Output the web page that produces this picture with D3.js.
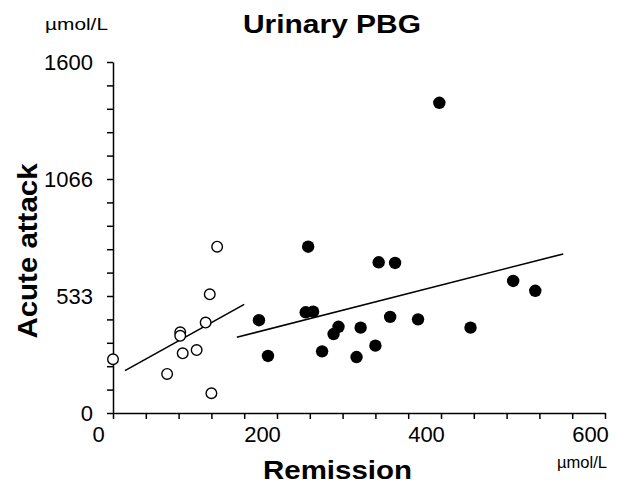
<!DOCTYPE html>
<html>
<head>
<meta charset="utf-8">
<script src="https://cdn.jsdelivr.net/npm/d3@7"></script>
<style>
  body { margin: 0; background: #fff; }
  text { font-family: "Liberation Sans", Arial, sans-serif; fill: #000; }
  .axis path, .axis line { stroke: #000; stroke-width: 1.5; }
  .axis text { font-size: 22px; }
</style>
</head>
<body>
<script>
//Global variables
const width = 624;
const height = 485;
const margin = {top: 62, right: 19, bottom: 72, left: 113};

//Remission (x) / acute attack (y), umol/L
const remissionOpen = [0, 66, 82, 82, 85, 102, 113, 118, 127, 120];
const acuteOpen = [245, 178, 368, 352, 272, 287, 412, 541, 758, 90];
const remissionFilled = [238, 324, 344, 488, 515, 178, 235, 244, 275, 269, 302, 338, 372, 436, 189, 255, 297, 320, 398];
const acuteFilled = [758, 687, 684, 602, 557, 423, 459, 462, 393, 360, 389, 438, 427, 389, 260, 281, 255, 307, 1414];

//Fitted lines, endpoints
const lineOpenX = [14.6, 160];
const lineOpenY = [193, 495];
const lineFilledX = [151, 549];
const lineFilledY = [345, 725];

//Tick labels
const xTicks = d3.range(0, 601, 40);
const xLabels = ["0", "200", "400", "600"];
const yTicks = d3.range(16).map(i => i * 1600 / 15);
const yLabels = ["0", "533", "1066", "1600"];

//SVG element
const svg = d3.select("body")
    .append("svg")
    .attr("width", width)
    .attr("height", height);

//Scales
const x = d3.scaleLinear()
    .domain([0, 600])
    .range([margin.left, width - margin.right]);
const y = d3.scaleLinear()
    .domain([0, 1600])
    .range([height - margin.bottom, margin.top]);

//Axes
const xAxis = svg.append("g")
    .attr("class", "axis")
    .attr("transform", `translate(0,${height - margin.bottom})`)
    .call(d3.axisBottom(x)
        .tickValues(xTicks)
        .tickSize(6)
        .tickSizeOuter(0)
        .tickFormat((d, i) => i % 5 === 0 ? xLabels[i / 5] : ""));
xAxis.selectAll("text")
    .attr("dx", -15)
    .attr("dy", "0.9em");

const yAxis = svg.append("g")
    .attr("class", "axis")
    .attr("transform", `translate(${margin.left},0)`)
    .call(d3.axisLeft(y)
        .tickValues(yTicks)
        .tickSize(6)
        .tickSizeOuter(0)
        .tickFormat((d, i) => i % 5 === 0 ? yLabels[i / 5] : ""));
yAxis.selectAll("text")
    .attr("x", -20);

//Fitted lines
const line = d3.line().x(d => x(d[0])).y(d => y(d[1]));
svg.append("path")
    .attr("d", line(d3.zip(lineOpenX, lineOpenY)))
    .attr("fill", "none")
    .attr("stroke", "#000")
    .attr("stroke-width", 1.6);
svg.append("path")
    .attr("d", line(d3.zip(lineFilledX, lineFilledY)))
    .attr("fill", "none")
    .attr("stroke", "#000")
    .attr("stroke-width", 1.6);

//Points
svg.append("g")
    .selectAll("circle")
    .data(d3.zip(remissionOpen, acuteOpen))
    .enter()
    .append("circle")
    .attr("cx", d => x(d[0]))
    .attr("cy", d => y(d[1]))
    .attr("r", 5.3)
    .attr("fill", "#fff")
    .attr("stroke", "#000")
    .attr("stroke-width", 1.4);

svg.append("g")
    .selectAll("circle")
    .data(d3.zip(remissionFilled, acuteFilled))
    .enter()
    .append("circle")
    .attr("cx", d => x(d[0]))
    .attr("cy", d => y(d[1]))
    .attr("r", 6.2)
    .attr("fill", "#000");

//Title
svg.append("text")
    .attr("x", 332)
    .attr("y", 33)
    .attr("text-anchor", "middle")
    .attr("font-size", 25)
    .attr("font-weight", "bold")
    .attr("textLength", 178)
    .attr("lengthAdjust", "spacingAndGlyphs")
    .text("Urinary PBG");

//Axis titles
svg.append("text")
    .attr("transform", "translate(37,251) rotate(-90)")
    .attr("text-anchor", "middle")
    .attr("font-size", 28)
    .attr("font-weight", "bold")
    .attr("textLength", 175)
    .attr("lengthAdjust", "spacingAndGlyphs")
    .text("Acute attack");

svg.append("text")
    .attr("x", 337.5)
    .attr("y", 479)
    .attr("text-anchor", "middle")
    .attr("font-size", 26)
    .attr("font-weight", "bold")
    .attr("textLength", 149)
    .attr("lengthAdjust", "spacingAndGlyphs")
    .text("Remission");

//Units
svg.append("text")
    .attr("x", 45)
    .attr("y", 30)
    .attr("font-size", 17)
    .attr("textLength", 63)
    .attr("lengthAdjust", "spacingAndGlyphs")
    .text("µmol/L");

svg.append("text")
    .attr("x", 557)
    .attr("y", 468)
    .attr("font-size", 17)
    .attr("textLength", 50)
    .attr("lengthAdjust", "spacingAndGlyphs")
    .text("µmol/L");
</script>
</body>
</html>
